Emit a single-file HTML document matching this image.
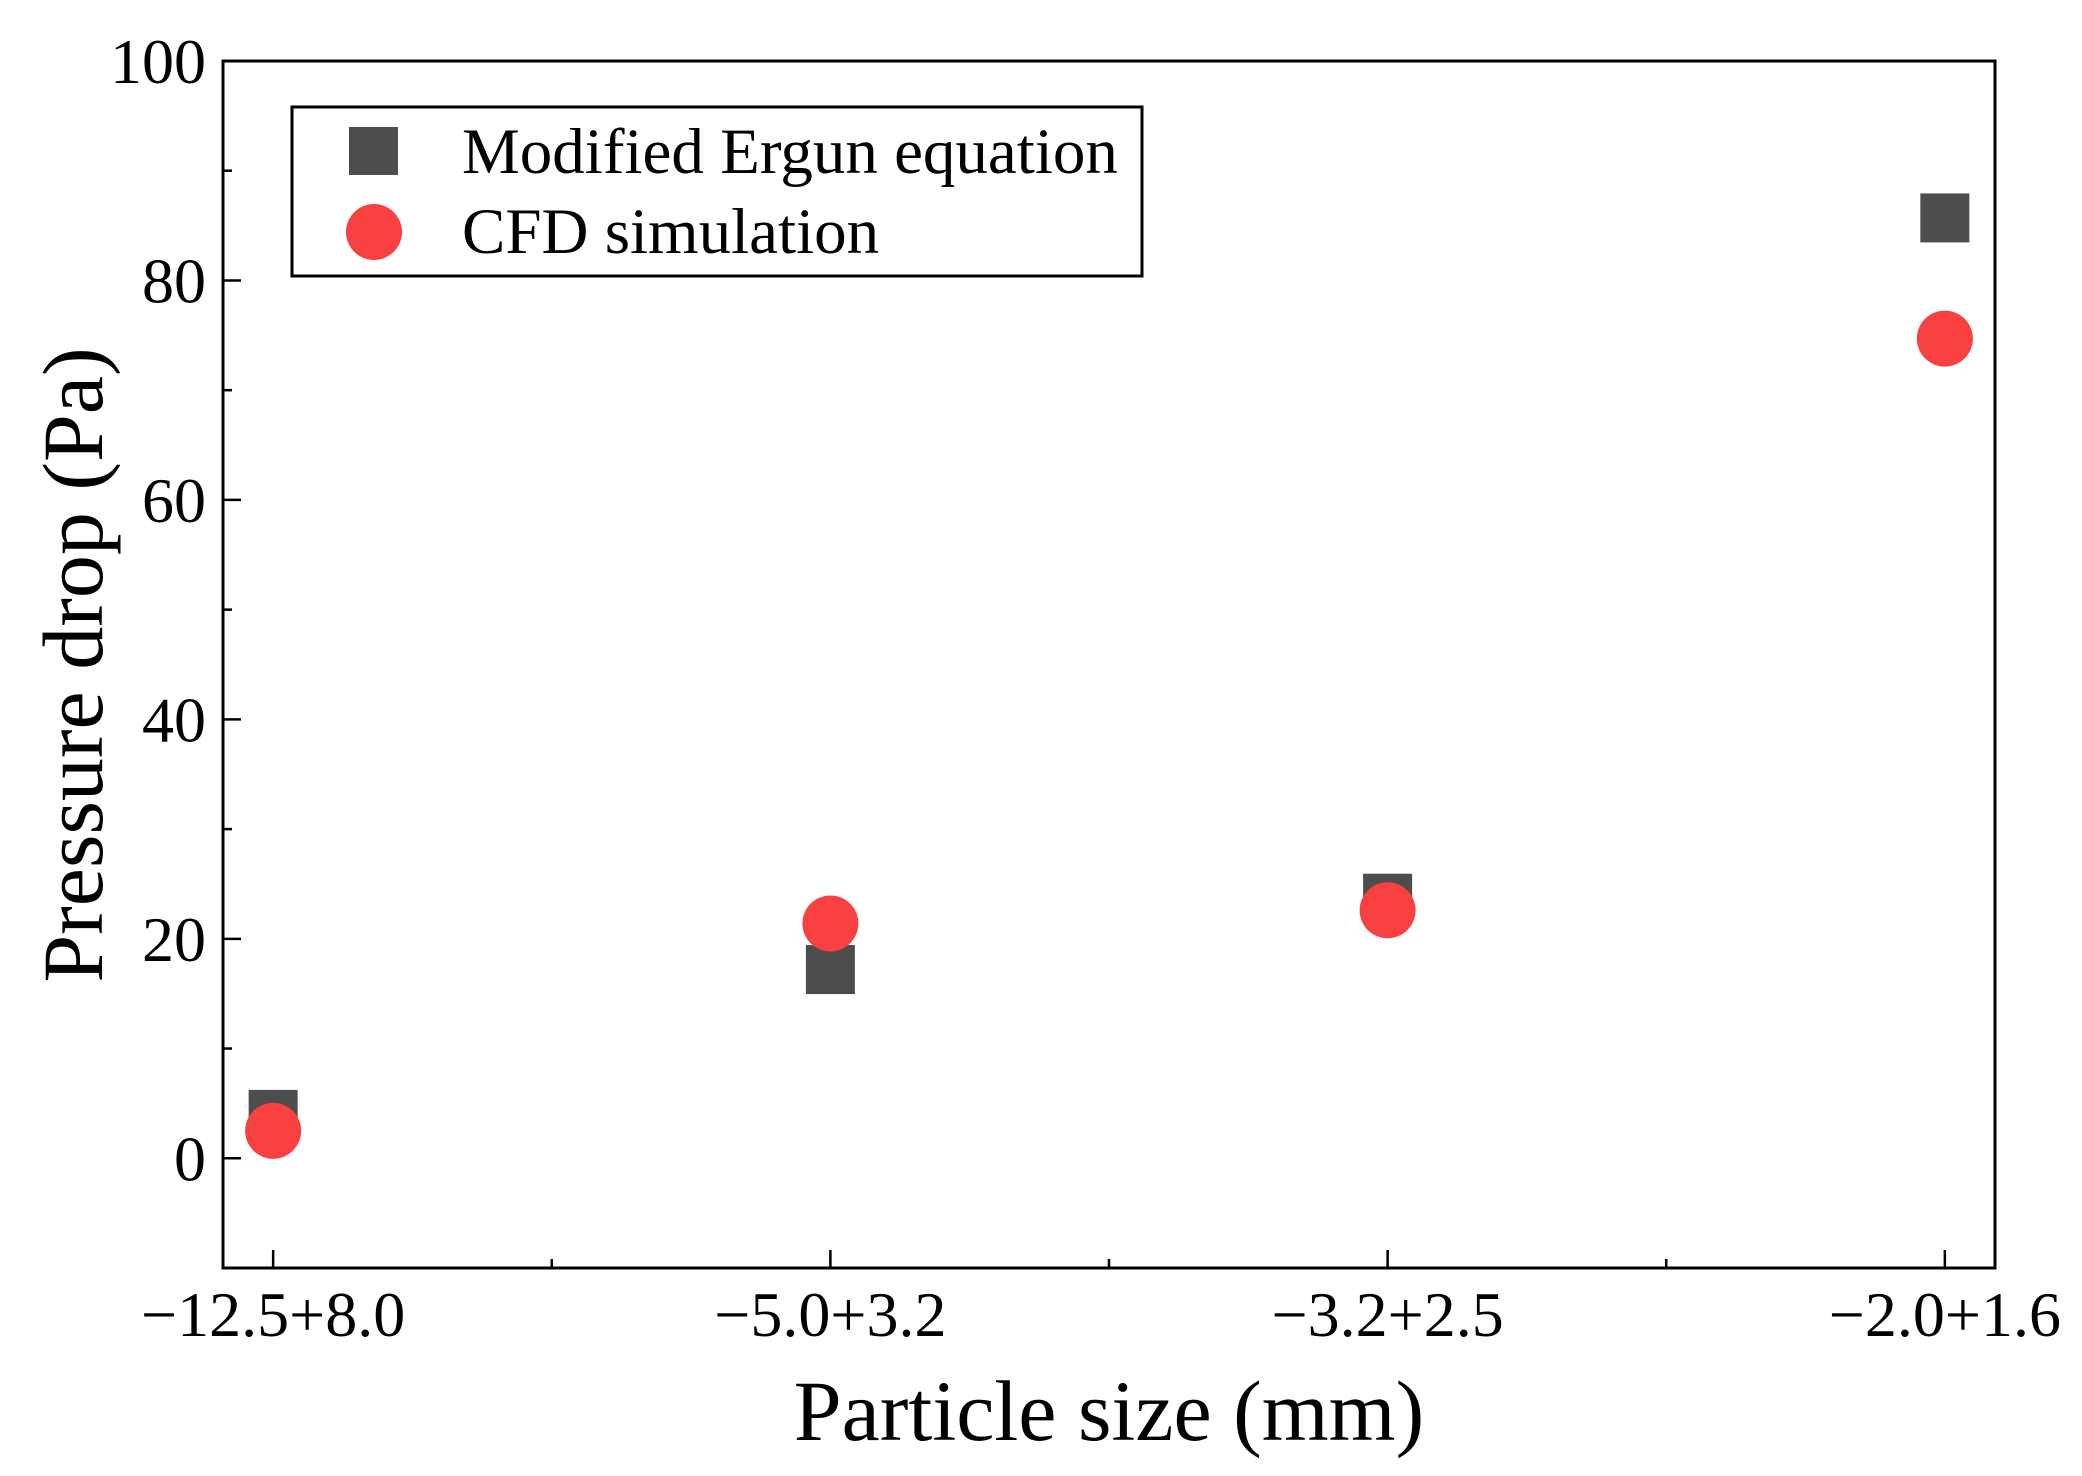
<!DOCTYPE html>
<html><head><meta charset="utf-8"><style>
html,body{margin:0;padding:0;background:#fff;}
svg{display:block;font-family:"Liberation Serif",serif;}
</style></head><body>
<svg id="chart" width="2082" height="1476" viewBox="0 0 2082 1476" xmlns="http://www.w3.org/2000/svg">
<g id="axes"></g>
<g id="marks"></g>
<g>
<rect x="292" y="107" width="850" height="169" fill="#fff" stroke="#000" stroke-width="3"/>
<rect x="349" y="127" width="49" height="48" fill="#4d4d4d"/>
<text x="462" y="173" font-size="65">Modified Ergun equation</text>
<circle cx="374" cy="232" r="28" fill="#f94040"/>
<text x="462" y="253" font-size="65">CFD simulation</text>
</g>
<text x="1109" y="1440" font-size="86" text-anchor="middle">Particle size (mm)</text>
<text transform="translate(102,665) rotate(-90)" font-size="86" text-anchor="middle">Pressure drop (Pa)</text>
</svg>
<script>
const categories = ["\u221212.5+8.0","\u22125.0+3.2","\u22123.2+2.5","\u22122.0+1.6"];
const ergunValues = [4.0, 17.2, 23.7, 85.7];
const cfdValues = [2.5, 21.4, 22.6, 74.7];
const yTicks = [0, 20, 40, 60, 80, 100];
const NS = "http://www.w3.org/2000/svg";
const L=223, R=1995, T=61, B=1268;
const yMin=-10, yMax=100, xMin=0.91, xMax=4.09;
function sx(i){return L+(i+1-xMin)/(xMax-xMin)*(R-L);}
function sy(v){return B-(v-yMin)/(yMax-yMin)*(B-T);}
function mk(tag, attrs, parent){const e=document.createElementNS(NS,tag);for(const k in attrs)e.setAttribute(k,attrs[k]);parent.appendChild(e);return e;}
const axes=document.getElementById('axes'), marks=document.getElementById('marks');
const frame=mk('rect',{x:L,y:T,width:R-L,height:B-T,fill:'none',stroke:'#000','stroke-width':3},axes);


for(let v=-10; v<=100; v+=10){
  const major = v%20===0;
  const t=mk('line',{x1:L,x2:L+(major?18:9),y1:sy(v),y2:sy(v),stroke:'#000','stroke-width':2.5},axes);
  
  
}
yTicks.forEach(v=>{
  const t=mk('text',{x:206,y:sy(v)+22,'font-size':64,'text-anchor':'end'},axes);
  t.textContent=v;
  
  
});
for(let k=0;k<categories.length*2-1;k++){
  const x=L+((k/2+1)-xMin)/(xMax-xMin)*(R-L);
  const major=k%2===0;
  const t=mk('line',{x1:x,x2:x,y1:B,y2:B-(major?18:9),stroke:'#000','stroke-width':2.5},axes);
  
  
}
categories.forEach((c,i)=>{
  const t=mk('text',{x:sx(i),y:1336,'font-size':64,'text-anchor':'middle'},axes);
  t.textContent=c;
  
  
});
ergunValues.forEach((v,i)=>{
  const r=mk('rect',{x:sx(i)-24.5,y:sy(v)-24.5,width:49,height:49,fill:'#4d4d4d'},marks);
  
  
});
cfdValues.forEach((v,i)=>{
  const c=mk('circle',{cx:sx(i),cy:sy(v),r:28,fill:'#f94040'},marks);
  
  
});
</script>
</body></html>
